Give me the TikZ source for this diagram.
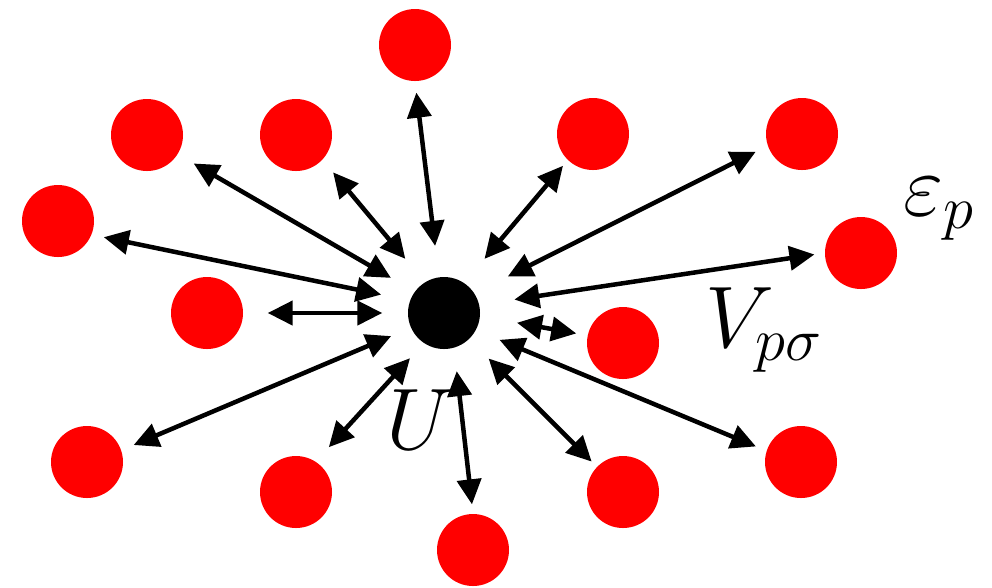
\documentclass[tikz,border=0pt]{standalone}
\usepackage{amsmath, amssymb}
\usepackage{tikz}
\usetikzlibrary{arrows.meta}

\begin{document}
\begin{tikzpicture}[x=0.1mm, y=-0.1mm, % one unit = one pixel of the sketch
          site/.style={circle, fill=red, minimum size=7.2mm, inner sep=0pt},
          imp/.style={circle, fill=black, minimum size=7.2mm, inner sep=0pt},
          link/.style={line width=0.45mm, {Triangle[length=2.5mm, width=2.4mm]}-{Triangle[length=2.5mm, width=2.4mm]}},
          lbl/.style={inner sep=0pt, anchor=base west, font=\fontsize{23.6}{28}\selectfont}
        ]
        \useasboundingbox (0,0) rectangle (992,587);

        % Impurity in the middle
        \node[imp] (c) at (444,313) {};

        % Bath sites
        \node[site] (r1) at (415,45) {};
        \node[site] (r2) at (147,135) {};
        \node[site] (r3) at (296,135) {};
        \node[site] (r4) at (593,134) {};
        \node[site] (r5) at (802,134) {};
        \node[site] (r6) at (58,221) {};
        \node[site] (r7) at (861,253) {};
        \node[site] (r8) at (207,313) {};
        \node[site] (r9) at (623,343) {};
        \node[site] (r10) at (87,462) {};
        \node[site] (r11) at (296,492) {};
        \node[site] (r12) at (623,492) {};
        \node[site] (r13) at (801,462) {};
        \node[site] (r14) at (473,550) {};

        % Hybridisation
        \draw[link, shorten <=3.1mm, shorten >=1.1mm] (c.98) -- (r1.-90);
        \draw[link, shorten <=2.7mm, shorten >=1.8mm] (c.144) -- (r2.-32);
        \draw[link, shorten <=3.0mm, shorten >=1.6mm] (c.122) -- (r3.-43);
        \draw[link, shorten <=3.1mm, shorten >=0.7mm] (c.56) -- (r4.-134);
        \draw[link, shorten <=3.7mm, shorten >=1.3mm] (c.33) -- (r5.-161);
        \draw[link, shorten <=2.9mm, shorten >=1.2mm] (c.160) -- (r6.-22);
        \draw[link, shorten <=3.5mm, shorten >=1.0mm] (c.13) -- (r7.180);
        \draw[link, shorten <=2.5mm, shorten >=2.4mm] (c.180) -- (r8.0);
        \draw[link, shorten <=3.7mm, shorten >=1.1mm] (c.-5) -- (r9.168);
        \draw[link, shorten <=2.1mm, shorten >=1.3mm] (c.-156) -- (r10.19);
        \draw[link, shorten <=2.0mm, shorten >=1.9mm] (c.-124) -- (r11.57);
        \draw[link, shorten <=2.7mm, shorten >=0.7mm] (c.-46) -- (r12.136);
        \draw[link, shorten <=2.5mm, shorten >=1.1mm] (c.-28) -- (r13.162);
        \draw[link, shorten <=2.3mm, shorten >=0.9mm] (c.-74) -- (r14.90);

        % Labels
        \node[lbl] (eps) at (903,215) {$\varepsilon_p$};
        \node[lbl] (hyb) at (705,347) {$V_{p\sigma}$};
        \node[lbl] (hub) at (386,449) {$U$};

\end{tikzpicture}
\end{document}
